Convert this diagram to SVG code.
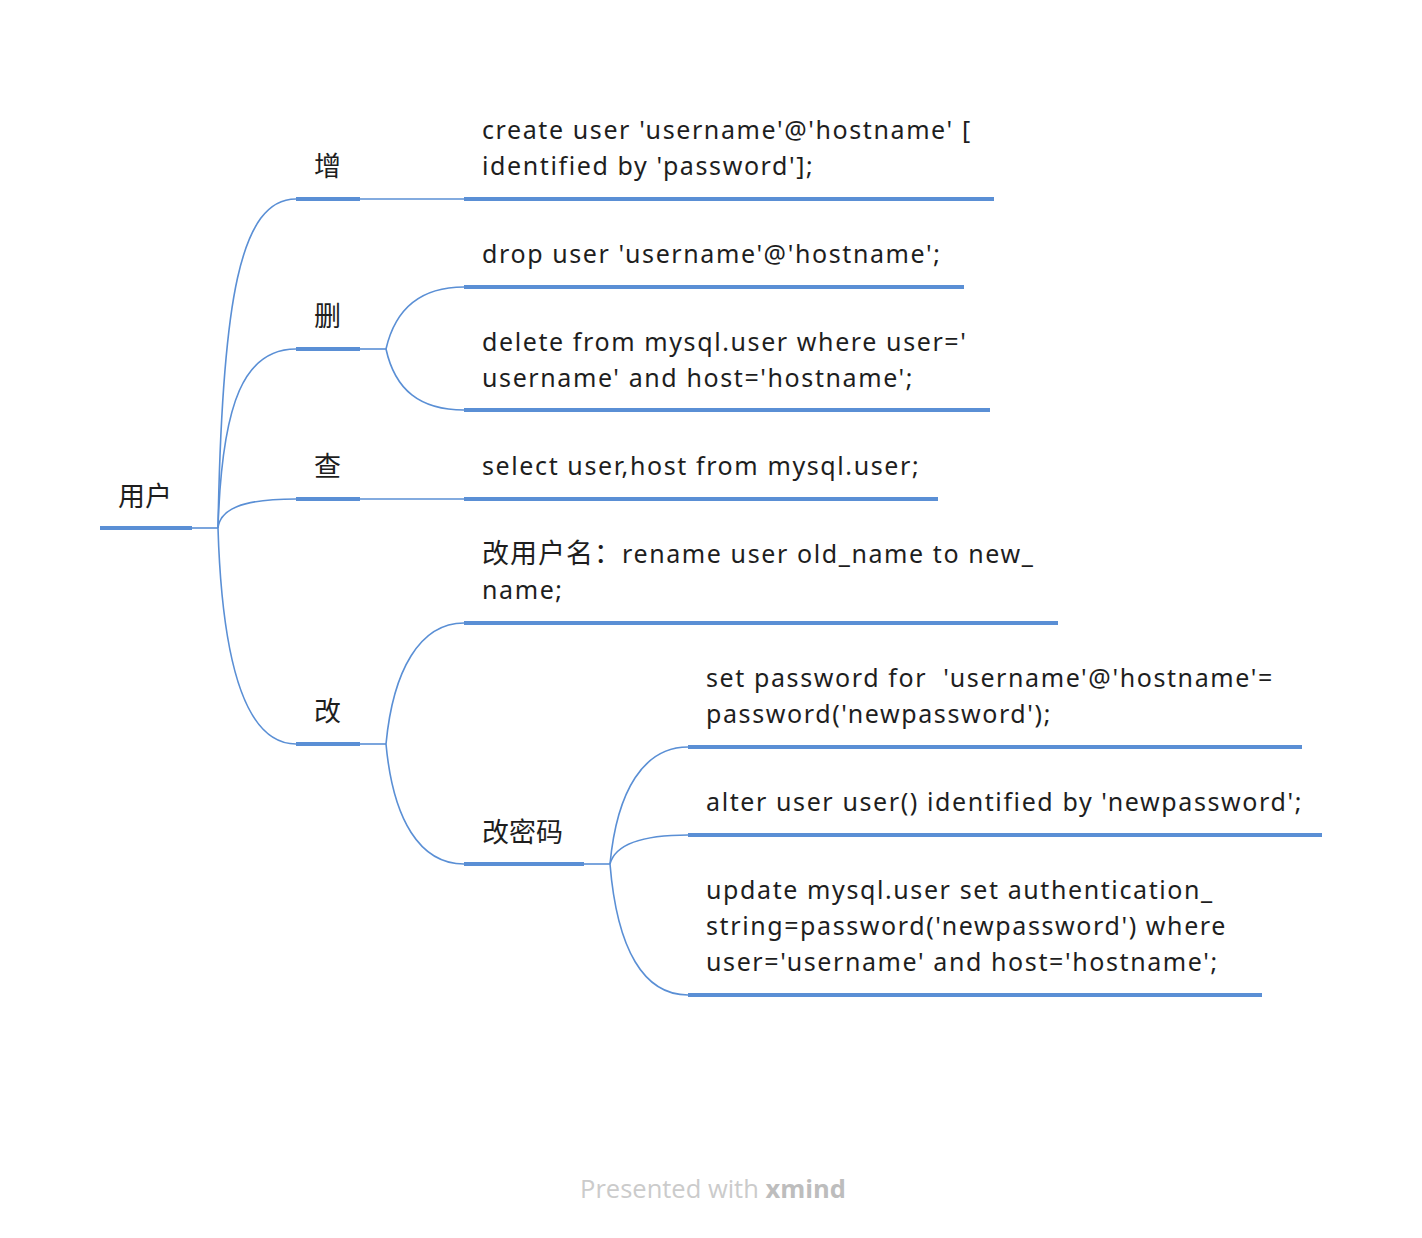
<svg xmlns="http://www.w3.org/2000/svg" width="1422" height="1238" viewBox="0 0 1422 1238">
<style>
.t{font-family:"Noto Sans","Noto Sans CJK SC",sans-serif;font-size:25px;fill:#1e1e1e;letter-spacing:1.6px;white-space:pre}
.k{font-family:"Noto Sans CJK SC","Noto Sans",sans-serif;font-size:27px;fill:#1e1e1e}
.u{stroke:#5a8fd5;stroke-width:4;fill:none}
.c{stroke:#5a8fd5;stroke-width:1.6;fill:none}
.f{font-family:"Open Sans","Noto Sans",sans-serif;font-size:25.5px;fill:#cbcbcb}
</style>
<rect width="1422" height="1238" fill="#fff"/>
<g id="connectors">
<path class="c" d="M192 528H218"/>
<path class="c" d="M218 528C222 300 240 199 296 199"/>
<path class="c" d="M218 528C222 400 245 349 296 349"/>
<path class="c" d="M218 528C220 510 240 499 296 499"/>
<path class="c" d="M218 528C222 660 245 744 296 744"/>
<path class="c" d="M360 199H464"/>
<path class="c" d="M360 499H464"/>
<path class="c" d="M360 349H386"/>
<path class="c" d="M386 349C395 310 420 287 464 287"/>
<path class="c" d="M386 349C395 390 420 410 464 410"/>
<path class="c" d="M360 744H386"/>
<path class="c" d="M386 744C393 670 420 623 464 623"/>
<path class="c" d="M386 744C393 820 420 864 464 864"/>
<path class="c" d="M584 864H610"/>
<path class="c" d="M610 864C617 790 644 747 688 747"/>
<path class="c" d="M610 864C615 845 640 835 688 835"/>
<path class="c" d="M610 864C617 950 644 995 688 995"/>
</g>
<g id="root"><path class="u" d="M100 528H192"/><text class="k" x="118" y="506">用户</text></g>
<g id="zeng"><path class="u" d="M296 199H360"/><text class="k" x="314" y="176">增</text></g>
<g id="shan"><path class="u" d="M296 349H360"/><text class="k" x="314" y="326">删</text></g>
<g id="cha"><path class="u" d="M296 499H360"/><text class="k" x="314" y="476">查</text></g>
<g id="gai"><path class="u" d="M296 744H360"/><text class="k" x="314" y="721">改</text></g>
<g id="create"><path class="u" d="M464 199H994"/><text class="t" x="482" y="139">create user 'username'@'hostname' [</text><text class="t" x="482" y="175">identified by 'password'];</text></g>
<g id="drop"><path class="u" d="M464 287H964"/><text class="t" x="482" y="263">drop user 'username'@'hostname';</text></g>
<g id="delete"><path class="u" d="M464 410H990"/><text class="t" x="482" y="351">delete from mysql.user where user='</text><text class="t" x="482" y="387">username' and host='hostname';</text></g>
<g id="select"><path class="u" d="M464 499H938"/><text class="t" x="482" y="475">select user,host from mysql.user;</text></g>
<g id="rename"><path class="u" d="M464 623H1058"/><text class="t" x="482" y="563"><tspan font-size="27" letter-spacing="1">改用户名：</tspan>rename user old_name to new_</text><text class="t" x="482" y="599">name;</text></g>
<g id="gaimima"><path class="u" d="M464 864H584"/><text class="k" x="482" y="842">改密码</text></g>
<g id="setpw"><path class="u" d="M688 747H1302"/><text class="t" x="706" y="687">set password for  'username'@'hostname'=</text><text class="t" x="706" y="723">password('newpassword');</text></g>
<g id="alter"><path class="u" d="M688 835H1322"/><text class="t" x="706" y="811">alter user user() identified by 'newpassword';</text></g>
<g id="update"><path class="u" d="M688 995H1262"/><text class="t" x="706" y="899">update mysql.user set authentication_</text><text class="t" x="706" y="935">string=password('newpassword') where</text><text class="t" x="706" y="971">user='username' and host='hostname';</text></g>
<text class="f" x="713" y="1198" text-anchor="middle">Presented with <tspan font-weight="bold" fill="#bdbdbd">xmind</tspan></text>
</svg>
